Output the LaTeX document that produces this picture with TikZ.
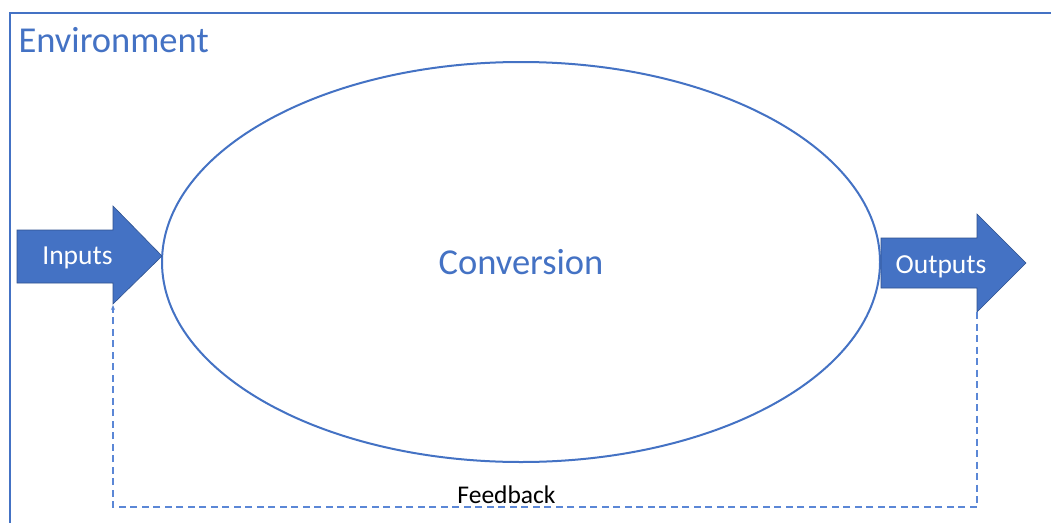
\documentclass[tikz,border=0pt]{standalone}
\usepackage{fontspec}
\setmainfont{Carlito}
\usetikzlibrary{arrows.meta}
\definecolor{officeblue}{HTML}{4472C4}
\definecolor{arrowedge}{HTML}{2F528F}
\definecolor{dashblue}{HTML}{5B87D6}
\tikzset{
  frameline/.style={draw=officeblue, line width=2.4pt},
  blockarrow/.style={fill=officeblue, draw=arrowedge, line width=0.6pt, line join=miter},
  arrowtext/.style={text=white, anchor=base, font=\fontsize{27.5}{32}\selectfont},
  bluetext/.style={text=officeblue, font=\fontsize{36.5}{42}\selectfont},
  feedbackline/.style={draw=dashblue, line width=1.5pt, dash pattern=on 7pt off 4.5pt},
}
\begin{document}
\begin{tikzpicture}[x=1pt, y=-1pt]
  \useasboundingbox (0,0) rectangle (1051,522);
  \fill[white] (0,0) rectangle (1051,522);

  % environment boundary
  \draw[frameline] (10,540) -- (10,13) -- (1070,13);
  \node[bluetext, anchor=base west] (env) at (15,52) {Environment};

  % conversion process
  \draw[officeblue, line width=2pt] (521,262) ellipse [x radius=359, y radius=200];
  \node[bluetext, anchor=base] (conv) at (521,274) {Conversion};

  % input arrow
  \coordinate (inTail) at (17,256);
  \coordinate (inTip) at (162,256);
  \draw[blockarrow] (17,230) -- (113,230) -- (113,206) -- (inTip) -- (113,304) -- (113,283) -- (17,283) -- cycle;
  \node[arrowtext] (inputs) at (77.5,264) {Inputs};

  % output arrow
  \coordinate (outTip) at (1026,263);
  \coordinate (outHeadBot) at (977,312);
  \draw[blockarrow] (881,238) -- (977,238) -- (977,214) -- (outTip) -- (outHeadBot) -- (977,288) -- (881,288) -- cycle;
  \node[arrowtext] (outputs) at (941,273) {Outputs};

  % feedback loop
  \coordinate (fbIn) at (113,305);
  \coordinate (fbCornerR) at (977,507);
  \coordinate (fbCornerL) at (113,507);
  \draw[feedbackline, -{Stealth[length=5pt, width=4pt]}] (outHeadBot) -- (fbCornerR) -- (fbCornerL) -- (fbIn);
  \node[font=\fontsize{25.5}{30}\selectfont, text=black, anchor=base] (fb) at (506.5,503) {Feedback};
\end{tikzpicture}
\end{document}
